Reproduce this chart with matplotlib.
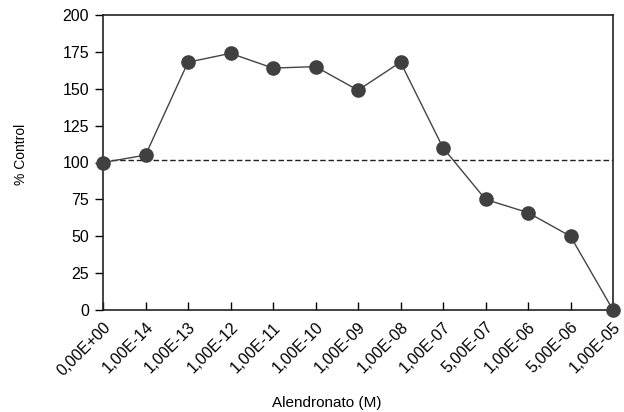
import matplotlib
matplotlib.use("Agg")
import matplotlib.pyplot as plt

plt.rcParams['font.family'] = ['Liberation Sans', 'DejaVu Sans']

concentrations = ["0,00E+00", "1,00E-14", "1,00E-13", "1,00E-12", "1,00E-11",
                  "1,00E-10", "1,00E-09", "1,00E-08", "1,00E-07", "5,00E-07",
                  "1,00E-06", "5,00E-06", "1,00E-05"]
pct_control = [100, 105, 168, 174, 164, 165, 149, 168, 110, 75, 66, 50, 0]
reference_level = 102
y_ticks = [0, 25, 50, 75, 100, 125, 150, 175, 200]

W, H = 624, 412
fig = plt.figure(figsize=(W / 100, H / 100), dpi=100)
ax = fig.add_axes([103/W, 1 - 310/H, 510/W, 295/H])

x = list(range(len(concentrations)))
ax.axhline(reference_level, color='#222222', lw=1.0, ls=(0, (4, 2)), zorder=2)
ax.plot(x, pct_control, color='#444444', lw=1.0, marker='o', markersize=9.5,
        markerfacecolor='#404040', markeredgecolor='#404040', zorder=3, clip_on=False)

ax.set_xlim(0, len(concentrations) - 1)
ax.set_ylim(0, 200)
ax.set_yticks(y_ticks)
ax.set_xticks(x)
ax.set_xticklabels(concentrations, rotation=45, ha='right', rotation_mode='anchor')
ax.tick_params(axis='x', direction='in', length=6, width=1, labelsize=11.5, pad=7)
ax.tick_params(axis='y', direction='out', length=6, width=1, labelsize=11.5, pad=4)

for s in ax.spines.values():
    s.set_linewidth(1.2)
    s.set_color('#222222')

fig.text(21/W, 1 - 154/H, '% Control', rotation=90, fontsize=10,
         ha='center', va='center')
fig.text(327/W, 1 - 403/H, 'Alendronato (M)', fontsize=11,
         ha='center', va='center')

fig.savefig('out.png', dpi=100)
